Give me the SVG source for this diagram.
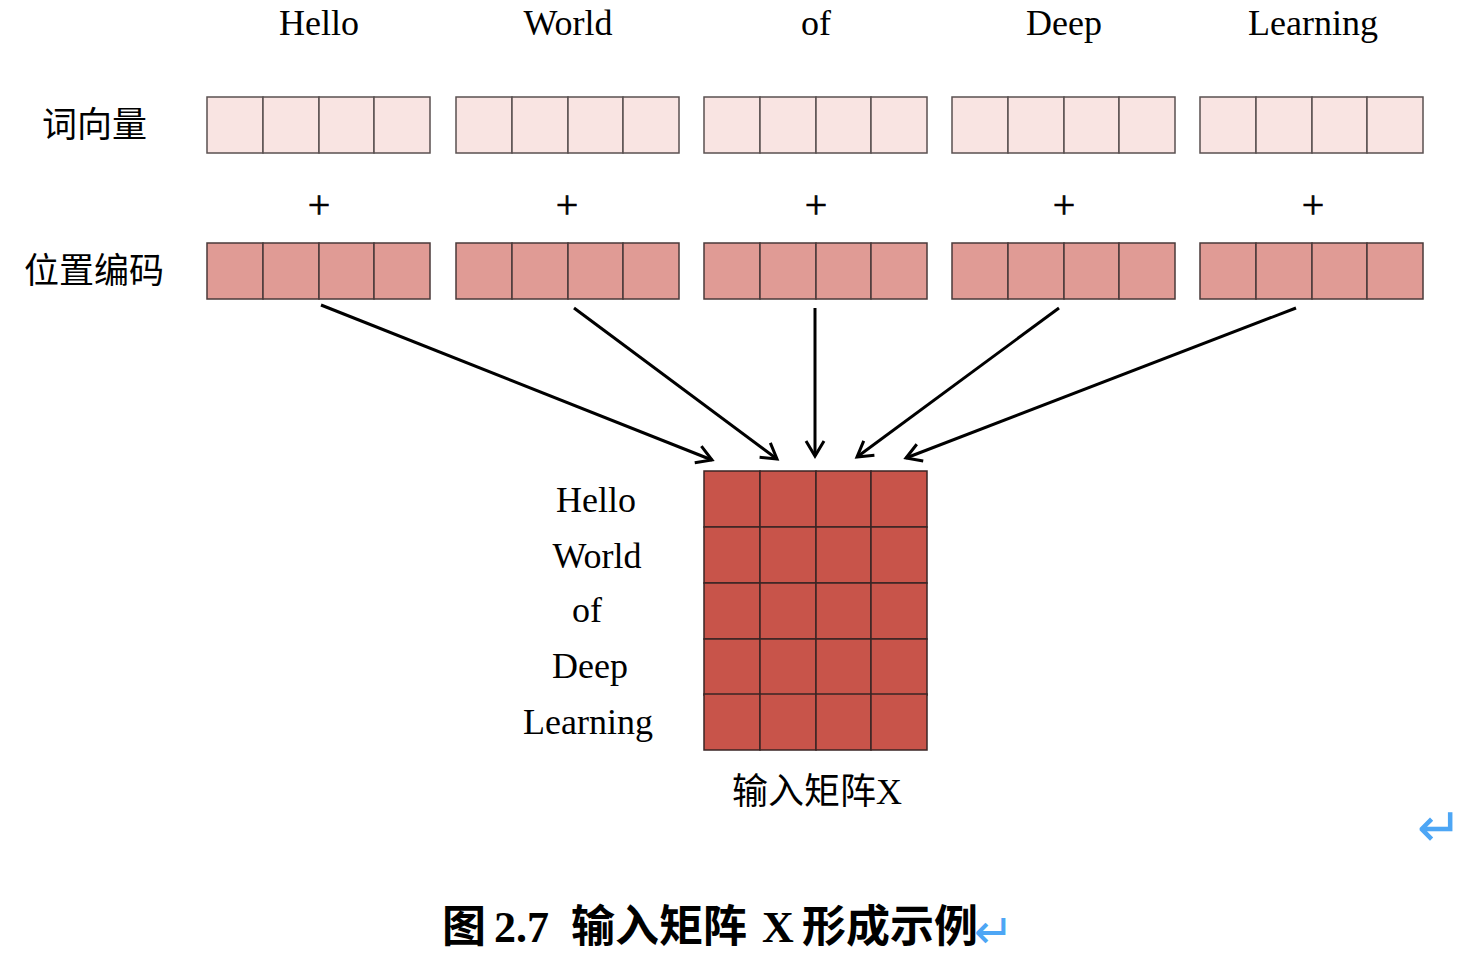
<svg xmlns="http://www.w3.org/2000/svg" width="1472" height="972" viewBox="0 0 1472 972">
<style>
.lbl{font-family:"Liberation Serif","Noto Sans CJK SC",serif;font-size:36px;fill:#000;text-anchor:middle}
.cjk{font-family:"Noto Sans CJK SC",sans-serif;font-size:35px;fill:#000}
.plus{font-family:"Liberation Serif",serif;font-size:40px;fill:#000;text-anchor:middle;stroke:#000;stroke-width:0.6}
.c1{fill:#F9E4E2;stroke:#5a5050;stroke-width:1.5}
.c2{fill:#E09B95;stroke:#4a3a3a;stroke-width:1.5}
.c3{fill:#C8544A;stroke:#3a2525;stroke-width:1.5}
.arr{stroke:#000;stroke-width:3;fill:none;marker-end:url(#ah)}
.ret{font-family:"DejaVu Sans",sans-serif;fill:#4DA6F5}
.cap{font-family:"Liberation Serif","Noto Sans CJK SC",serif;font-size:44px;font-weight:bold;fill:#000}
</style>
<defs>
<marker id="ah" markerUnits="userSpaceOnUse" markerWidth="30" markerHeight="30" viewBox="-20 -15 30 30" refX="0" refY="0" orient="auto">
<polyline points="-15,-9 0,0 -15,9" fill="none" stroke="#000" stroke-width="3"/>
</marker>
<g id="row">
<rect x="0" y="0" width="56" height="56"/><rect x="56" y="0" width="56" height="56"/><rect x="112" y="0" width="55" height="56"/><rect x="167" y="0" width="56" height="56"/>
</g>
</defs>

<g id="word-labels">
<text class="lbl" x="319" y="35">Hello</text>
<text class="lbl" x="568" y="35">World</text>
<text class="lbl" x="816" y="35">of</text>
<text class="lbl" x="1064" y="35">Deep</text>
<text class="lbl" x="1313" y="35">Learning</text>
</g>

<g id="label-wordvec"><text class="cjk" x="42" y="137">词向量</text></g>
<g id="label-posenc"><text class="cjk" x="24" y="283">位置编码</text></g>

<g id="wordvec-hello" class="c1"><use href="#row" x="207" y="97"/></g>
<g id="wordvec-world" class="c1"><use href="#row" x="456" y="97"/></g>
<g id="wordvec-of" class="c1"><use href="#row" x="704" y="97"/></g>
<g id="wordvec-deep" class="c1"><use href="#row" x="952" y="97"/></g>
<g id="wordvec-learning" class="c1"><use href="#row" x="1200" y="97"/></g>

<g id="plus-signs">
<text class="plus" x="319" y="218">+</text>
<text class="plus" x="567" y="218">+</text>
<text class="plus" x="816" y="218">+</text>
<text class="plus" x="1064" y="218">+</text>
<text class="plus" x="1313" y="218">+</text>
</g>

<g id="posenc-hello" class="c2"><use href="#row" x="207" y="243"/></g>
<g id="posenc-world" class="c2"><use href="#row" x="456" y="243"/></g>
<g id="posenc-of" class="c2"><use href="#row" x="704" y="243"/></g>
<g id="posenc-deep" class="c2"><use href="#row" x="952" y="243"/></g>
<g id="posenc-learning" class="c2"><use href="#row" x="1200" y="243"/></g>

<g id="connectors">
<line class="arr" x1="321" y1="305" x2="712" y2="460"/>
<line class="arr" x1="574" y1="308" x2="777" y2="459"/>
<line class="arr" x1="815" y1="308" x2="815" y2="456"/>
<line class="arr" x1="1059" y1="308" x2="857" y2="457"/>
<line class="arr" x1="1296" y1="308" x2="906" y2="458"/>
</g>

<g id="matrix-x" class="c3">
<use href="#row" x="704" y="471"/>
<use href="#row" x="704" y="527"/>
<use href="#row" x="704" y="583"/>
<use href="#row" x="704" y="639"/>
<use href="#row" x="704" y="694"/>
</g>

<g id="matrix-row-labels">
<text class="lbl" x="596" y="512">Hello</text>
<text class="lbl" x="597" y="568">World</text>
<text class="lbl" x="587" y="622">of</text>
<text class="lbl" x="590" y="678">Deep</text>
<text class="lbl" x="588" y="734">Learning</text>
</g>

<g id="matrix-label"><text class="lbl" x="817" y="804">输入矩阵X</text></g>

<g id="return-mark"><text class="ret" x="1417" y="846" font-size="54">↵</text></g>

<g id="caption">
<text class="cap" y="942"><tspan x="442">图</tspan><tspan x="494">2.7</tspan><tspan x="571">输入矩阵</tspan><tspan x="762">X</tspan><tspan x="802">形成示例</tspan></text>
<text class="ret" x="974" y="948" font-size="48">↵</text>
</g>
</svg>
